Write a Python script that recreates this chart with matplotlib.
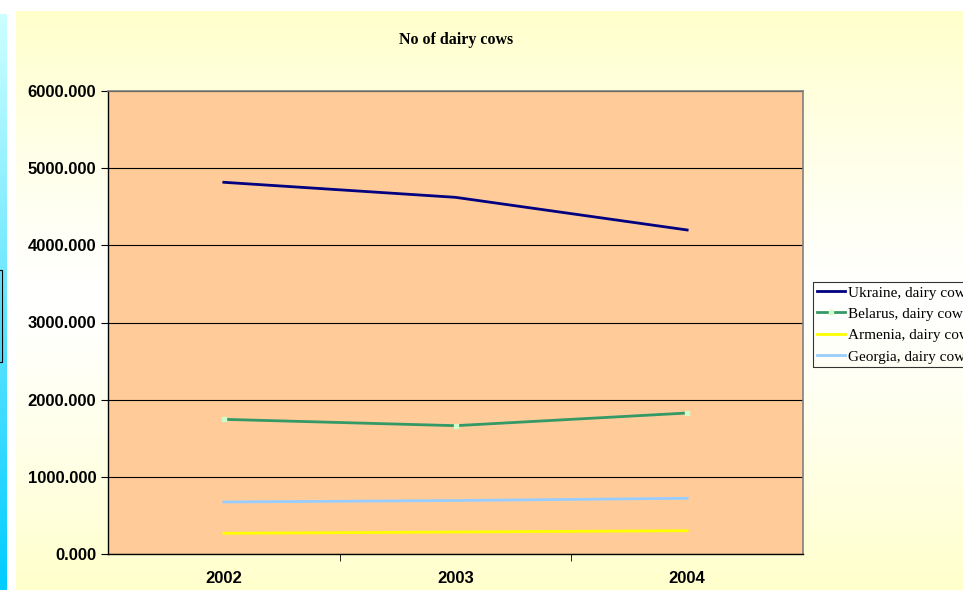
import matplotlib.pyplot as plt
import numpy as np
from matplotlib.patches import Rectangle

# данные
years = ['2002', '2003', '2004']
ukraine = [4817, 4622, 4199]
belarus = [1745, 1663, 1827]
armenia = [268, 285, 302]
georgia = [674, 693, 722]
series_names = ['Ukraine, dairy cows', 'Belarus, dairy cows',
                'Armenia, dairy cows', 'Georgia, dairy cows']

W, H = 963, 595
fig = plt.figure(figsize=(W / 100, H / 100), dpi=100)
fig.patch.set_facecolor('white')

# фон: вертикальный градиент жёлтый -> белый -> жёлтый
bg = fig.add_axes([16 / W, 5 / H, 1 - 16 / W, (590 - 11) / H], zorder=-10)
t = np.linspace(0, 1, 256)
k = np.abs(t - 0.5) * 2
col = np.zeros((256, 1, 3))
col[:, 0, 0] = 1.0
col[:, 0, 1] = 1.0
col[:, 0, 2] = 1.0 - 0.2 * k ** 1.2
bg.imshow(col, aspect='auto', extent=[0, 1, 0, 1])
bg.set_axis_off()

# голубая полоса слева
strip = fig.add_axes([0, 5 / H, 6 / W, (590 - 14) / H], zorder=-10)
sc = np.zeros((256, 1, 3))
sc[:, 0, 0] = np.linspace(0.0, 0.8, 256)
sc[:, 0, 1] = np.linspace(0.8, 1.0, 256)
sc[:, 0, 2] = 1.0
strip.imshow(sc, aspect='auto', extent=[0, 1, 0, 1], origin='lower')
strip.set_axis_off()
fig.patches.append(Rectangle((-0.001, (595 - 362) / H), 3 / W, 92 / H,
                             transform=fig.transFigure, fill=False,
                             edgecolor='black', linewidth=0.8))

# область графика
ax = fig.add_axes([108 / W, (595 - 554) / H, (803 - 108) / W, (554 - 91) / H])
ax.set_facecolor('#FFCC99')
x = np.arange(len(years))
ax.plot(x, ukraine, color='#000080', linewidth=2, label=series_names[0])
ax.plot(x, belarus, color='#339966', linewidth=2, marker='s', markersize=2.5,
        markerfacecolor='#CCFFCC', markeredgecolor='#CCFFCC', label=series_names[1])
ax.plot(x, armenia, color='#FFFF00', linewidth=2, label=series_names[2])
ax.plot(x, georgia, color='#99CCFF', linewidth=2, label=series_names[3])

ax.set_xlim(-0.5, 2.5)
ax.set_ylim(0, 6000)
ax.set_yticks(np.arange(0, 6001, 1000))
ax.set_yticklabels([f'{v:.3f}' for v in np.arange(0, 6001, 1000)],
                   fontfamily='Liberation Sans', fontweight='bold', fontsize=12)
ax.set_xticks(x)
ax.set_xticklabels(years, fontfamily='Liberation Sans', fontweight='bold', fontsize=12)
ax.set_xticks([0.5, 1.5], minor=True)
ax.tick_params(axis='x', which='major', length=0, pad=12)
ax.tick_params(axis='x', which='minor', length=5, direction='out', color='black')
ax.tick_params(axis='y', length=5, direction='out', color='black', pad=3.5)
ax.grid(axis='y', color='black', linewidth=0.8)
ax.set_axisbelow(True)
for s in ['top', 'right']:
    ax.spines[s].set_color('#808080')
    ax.spines[s].set_linewidth(1.2)
for s in ['left', 'bottom']:
    ax.spines[s].set_color('black')
    ax.spines[s].set_linewidth(1)

fig.text(456 / W, 1 - 40 / H, 'No of dairy cows', ha='center', va='center',
         fontfamily='Liberation Serif', fontweight='bold', fontsize=11.5)

leg = fig.legend(loc='upper left', bbox_to_anchor=(813 / W, 1 - 282 / H),
                 prop={'family': 'Liberation Serif', 'size': 11},
                 frameon=True, fancybox=False, borderpad=0.25, labelspacing=0.5,
                 handlelength=1.85, handletextpad=0.2, borderaxespad=0)
leg.get_frame().set_edgecolor('black')
leg.get_frame().set_facecolor('none')
leg.get_frame().set_linewidth(0.8)

plt.savefig('out.png', dpi=100)
